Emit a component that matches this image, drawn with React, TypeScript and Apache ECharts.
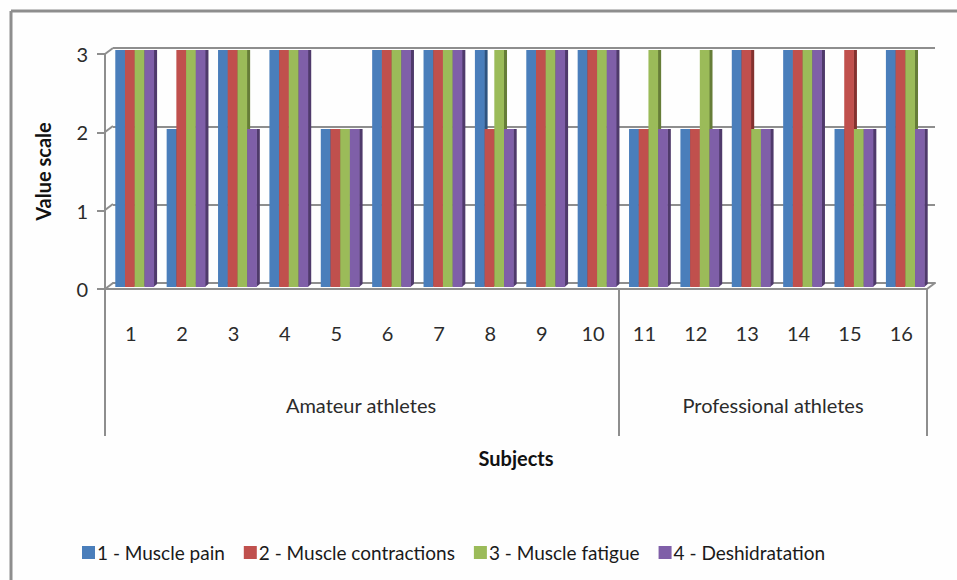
import React, { useEffect, useRef } from "react";
import * as echarts from "echarts";

const subjects = ["1","2","3","4","5","6","7","8","9","10","11","12","13","14","15","16"];
const musclePain = [3,2,3,3,2,3,3,3,3,3,2,2,3,3,2,3];
const muscleContractions = [3,3,3,3,2,3,3,2,3,3,2,2,3,3,3,3];
const muscleFatigue = [3,3,3,3,2,3,3,3,3,3,3,3,2,3,2,3];
const deshidratation = [3,3,2,3,2,3,3,2,3,3,2,2,2,3,2,2];
const yTicks = [0,1,2,3];
const seriesNames = ["1 - Muscle pain","2 - Muscle contractions","3 - Muscle fatigue","4 - Deshidratation"];
const seriesColors = ["#4a7ebb","#c0504d","#9bbb59","#7f5fa8"];
const sideColors = ["#2f5480","#83322f","#667d38","#4f3a6b"];
const seriesValues = [musclePain,muscleContractions,muscleFatigue,deshidratation];
const groups = [{name:"Amateur athletes",x:361},{name:"Professional athletes",x:773}];
const FONT = "Lato";
const GREY = "#8e8e8e";
const TEXT = "#2b2b2b";

export default function App() {
  const ref = useRef<HTMLDivElement>(null);
  useEffect(() => {
    document.body.style.margin = "0";
    const chart = echarts.init(ref.current!, null, { renderer: "svg" });
    const L = (x1:number,y1:number,x2:number,y2:number,w=2) => ({
      type:"line", silent:true, z:1,
      shape:{x1,y1,x2,y2}, style:{stroke:GREY,lineWidth:w}
    });
    const barW = 9.7;
    const sideSeries = seriesValues.map((vals,si)=>({
      type:"custom", xAxisIndex:2, yAxisIndex:2, z:3, silent:true,
      data: vals.map((v,i)=>[i,v]),
      renderItem:(_:any,api:any)=>{
        const c = api.coord([api.value(0),api.value(1)]);
        const b = api.coord([api.value(0),0]);
        const xr = c[0] + (si-2)*barW + barW;
        return {type:"polygon",
          shape:{points:[[xr-0.5,c[1]],[xr+3,c[1]],[xr+3,b[1]-3],[xr-0.5,b[1]]]},
          style:{fill:sideColors[si]}};
      }
    }));
    const barSeries = seriesValues.map((vals,si)=>({
      type:"bar", name:seriesNames[si], xAxisIndex:2, yAxisIndex:2, z:5,
      data:vals, barWidth:barW, barGap:"0%",
      itemStyle:{color:seriesColors[si]}
    }));
    chart.setOption({
      animation:false,
      backgroundColor:"#fefefe",
      textStyle:{fontFamily:FONT},
      grid:[
        {left:113,top:48,width:822,height:235},
        {left:105,top:54,width:822,height:235},
        {left:109,top:50,width:822,height:237},
      ],
      xAxis:[
        {gridIndex:0,type:"category",data:subjects,axisLine:{lineStyle:{color:GREY,width:2}},axisTick:{show:false},axisLabel:{show:false}},
        {gridIndex:1,type:"category",data:subjects,
          axisLine:{lineStyle:{color:GREY,width:2}},axisTick:{show:false},
          axisLabel:{color:TEXT,fontSize:20,fontFamily:FONT,margin:34},
          name:"Subjects",nameLocation:"middle",nameGap:159,
          nameTextStyle:{color:"#111",fontSize:20,fontWeight:"bold",fontFamily:FONT}},
        {gridIndex:2,type:"category",data:subjects,axisLine:{show:false},axisTick:{show:false},axisLabel:{show:false}},
      ],
      yAxis:[
        {gridIndex:0,type:"value",min:0,max:3,interval:1,axisLine:{show:false},axisTick:{show:false},axisLabel:{show:false},
          splitLine:{lineStyle:{color:GREY,width:2}}},
        {gridIndex:1,type:"value",min:0,max:3,interval:1,splitLine:{show:false},
          axisLine:{show:true,lineStyle:{color:GREY,width:2}},
          axisTick:{show:true,length:8,lineStyle:{color:GREY,width:2}},
          data:yTicks,
          axisLabel:{color:TEXT,fontSize:20,fontFamily:FONT,margin:17},
          name:"Value scale",nameLocation:"middle",nameGap:52,
          nameTextStyle:{color:"#111",fontSize:20,fontWeight:"bold",fontFamily:FONT}},
        {gridIndex:2,type:"value",min:0,max:3,interval:1,show:false},
      ],
      legend:{
        data:seriesNames.map((name)=>({name,icon:"rect"})),
        left:77,top:538,itemWidth:13,itemHeight:13,itemGap:19,
        textStyle:{color:"#1a1a1a",fontSize:19,fontFamily:FONT,padding:[0,0,0,-3]},
      },
      series:[...sideSeries,...barSeries],
      graphic:[
        L(11,11,957,11,3),
        L(11,11,11,580,3),
        L(105,54,105,436),L(619,289,619,436),L(927,289,927,436),
        L(105,54,113,48),L(105,132,113,126),L(105,210,113,204),L(105,289,113,283),
        L(927,289,935,283),
        ...groups.map(g=>({type:"text",x:g.x,y:405,z:6,style:{
          text:g.name,fill:TEXT,fontSize:20,fontFamily:FONT,textAlign:"center",textVerticalAlign:"middle"}})),
      ],
    });
    return () => chart.dispose();
  }, []);
  return <div ref={ref} style={{width:957,height:580}} />;
}
